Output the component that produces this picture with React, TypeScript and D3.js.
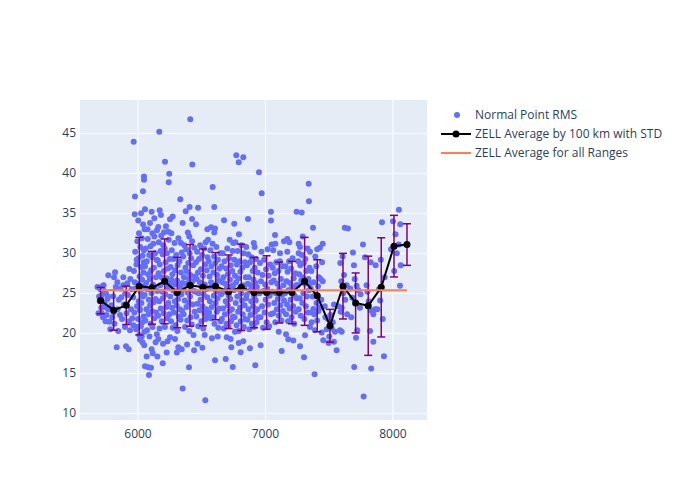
import React from "react";
import * as d3 from "d3";

// Scatter: [range km, RMS]
const rmsPoints: [number, number][] = [
  // ~5700
  [5682,25.8],[5690,22.5],[5700,24.0],[5705,25.5],[5712,23.2],[5715,25.8],[5715,22.5],[5718,24.8],[5725,22.0],[5730,26.0],[5738,23.8],[5745,21.5],[5728,25.4],[5741,23.3],[5695,24.6],[5748,25.0],
  // ~5800
  [5754,22.3],[5767,27.25],[5775,21.45],[5760,24.3],[5765,24.6],[5783,20.5],[5790,23.5],[5806,24.65],[5812,27.0],[5820,27.65],[5833,18.25],[5798,22.0],[5815,21.2],[5826,25.8],[5840,23.0],[5845,20.3],[5838,26.4],[5765,23.0],[5850,24.2],[5808,22.6],
  // ~5900
  [5859,22.3],[5885,27.0],[5885,26.0],[5898,20.8],[5906,18.4],[5916,26.25],[5927,18.0],[5932,28.05],[5937,20.4],[5870,24.5],[5890,23.6],[5910,22.5],[5920,24.8],[5945,23.0],[5950,25.5],[5875,21.8],[5900,25.0],[5930,21.5],[5940,26.8],[5862,25.6],[5955,21.9],
  [5963,21.0],[5966,43.95],[5974,34.9],[5976,37.1],
  // ~6000
  [6039,37.75],[6047,39.6],[6047,39.2],[6052,33.0],[6055,35.5],[6016,19.2],[6049,18.5],[6055,15.9],[5990,20.8],
  [5962,24.5],[5968,27.8],[5972,22.6],[5978,30.2],[5982,25.6],[5985,20.5],[5988,28.6],[5992,23.4],[5995,31.5],[5998,26.2],[6000,21.8],[6003,29.4],[6006,24.0],[6008,32.5],[6010,19.8],[6012,27.1],[6015,22.9],[6018,30.8],[6020,25.2],[6022,20.9],[6025,28.3],[6027,23.8],[6030,31.9],[6032,26.7],[6034,21.4],[6036,29.7],[6038,24.6],[6040,33.6],[6042,27.6],[6044,22.1],[6046,30.4],[6048,25.9],[6050,20.2],[6002,34.1],[6024,35.0],[6035,18.9],[6045,28.9],[5975,26.4],[5990,29.2],[6013,23.1],[6029,19.6],
  // ~6100
  [6094,33.8],[6107,35.2],[6113,32.5],[6128,34.4],[6128,32.1],[6107,18.0],[6115,17.5],[6068,17.1],[6081,15.75],[6086,14.8],[6102,15.7],[6149,32.9],
  [6052,24.8],[6055,28.4],[6058,21.6],[6061,30.6],[6064,26.3],[6066,23.0],[6069,29.0],[6071,20.4],[6074,25.5],[6077,31.8],[6079,27.4],[6082,22.4],[6085,24.2],[6088,29.8],[6090,19.6],[6092,26.8],[6095,23.5],[6098,30.9],[6100,21.2],[6103,27.9],[6106,25.0],[6109,22.8],[6111,29.5],[6114,20.8],[6117,26.1],[6120,31.2],[6122,23.9],[6125,28.2],[6128,21.9],[6131,25.7],[6134,30.0],[6137,24.3],[6140,27.0],[6143,22.6],[6146,29.2],[6148,19.9],[6075,33.0],[6138,18.9],
  // ~6200
  [6167,45.2],[6212,41.45],[6245,39.95],[6241,38.9],[6170,35.4],[6159,33.3],[6204,32.65],[6238,32.7],[6251,34.25],[6159,19.3],[6152,17.1],[6194,16.25],[6225,17.6],[6251,19.5],
  [6152,25.3],[6155,29.1],[6158,22.2],[6161,27.5],[6163,31.4],[6166,24.0],[6169,20.6],[6171,28.6],[6174,26.0],[6177,30.3],[6179,23.1],[6182,32.2],[6185,27.0],[6187,21.5],[6190,25.2],[6193,29.9],[6195,24.4],[6198,31.0],[6201,22.5],[6203,27.8],[6206,26.4],[6209,30.6],[6211,20.8],[6214,24.9],[6217,28.9],[6219,33.4],[6222,23.3],[6225,26.9],[6227,30.0],[6230,21.9],[6233,25.7],[6235,28.1],[6238,23.8],[6241,31.7],[6244,26.2],[6247,22.4],[6249,29.3],[6180,34.8],[6196,18.7],[6232,19.0],
  // ~6300
  [6272,34.6],[6332,36.75],[6350,33.8],[6337,31.3],[6290,19.3],[6316,18.25],[6343,18.0],[6350,13.1],
  [6253,24.6],[6256,28.3],[6259,21.5],[6262,26.7],[6265,30.4],[6267,23.2],[6270,27.4],[6273,20.7],[6276,25.4],[6278,29.3],[6281,22.6],[6284,26.1],[6287,31.3],[6289,24.0],[6292,27.9],[6295,21.0],[6298,25.0],[6300,29.8],[6303,23.5],[6306,26.6],[6309,20.3],[6311,28.5],[6314,24.3],[6317,31.9],[6320,22.1],[6323,26.0],[6325,29.0],[6328,23.0],[6331,25.8],[6334,21.7],[6337,27.6],[6340,24.9],[6343,30.1],[6346,22.8],[6348,26.3],[6262,32.5],[6305,17.6],
  // ~6400
  [6410,46.75],[6426,41.1],[6405,35.8],[6374,35.25],[6424,34.3],[6402,32.1],[6400,15.75],[6455,33.65],[6471,35.7],
  [6352,25.5],[6355,29.6],[6358,22.4],[6361,27.0],[6364,31.0],[6366,24.1],[6369,20.8],[6372,28.2],[6375,26.2],[6378,30.5],[6380,23.3],[6383,27.7],[6386,21.6],[6389,25.1],[6391,32.6],[6394,28.8],[6397,23.9],[6400,26.8],[6402,20.3],[6405,30.0],[6408,24.6],[6410,27.3],[6413,22.0],[6416,29.4],[6419,25.9],[6421,21.1],[6424,31.5],[6427,26.5],[6430,23.6],[6433,28.5],[6435,19.8],[6438,25.3],[6441,30.7],[6444,22.7],[6447,27.1],[6385,18.6],[6440,17.9],
  // ~6500
  [6544,33.0],[6531,31.4],[6549,31.7],[6523,19.8],[6528,11.65],
  [6452,25.2],[6455,28.9],[6458,22.1],[6461,26.8],[6464,30.2],[6467,23.7],[6470,27.6],[6473,20.9],[6476,25.0],[6479,29.3],[6482,22.9],[6485,26.4],[6488,31.0],[6491,24.2],[6494,28.0],[6497,21.5],[6500,25.8],[6503,29.8],[6506,23.4],[6509,27.2],[6512,20.6],[6515,24.9],[6518,30.6],[6521,22.5],[6524,26.1],[6527,28.6],[6530,21.8],[6533,25.5],[6536,23.0],[6539,27.9],[6542,24.5],[6545,29.5],[6548,22.2],[6466,18.7],[6505,18.2],
  // ~6600
  [6586,38.3],[6598,35.8],[6573,33.25],[6604,33.1],[6598,32.6],[6604,16.65],
  [6552,25.6],[6555,29.0],[6558,22.6],[6561,27.1],[6564,24.0],[6567,30.4],[6570,21.9],[6573,26.4],[6576,28.4],[6579,23.3],[6582,25.9],[6585,31.2],[6588,22.0],[6591,27.6],[6594,24.7],[6597,29.6],[6600,21.2],[6603,26.0],[6606,28.8],[6609,23.8],[6612,25.3],[6615,30.8],[6618,22.7],[6621,27.3],[6624,24.4],[6627,29.2],[6630,20.7],[6633,26.6],[6636,23.1],[6639,28.1],[6642,25.1],[6645,30.0],[6648,21.5],[6580,19.4],[6625,19.6],
  // ~6700
  [6675,34.15],[6719,31.7],[6747,31.3],[6688,16.8],[6743,15.8],[6732,18.25],[6696,19.5],[6727,19.3],[6755,33.7],
  [6652,24.9],[6655,28.4],[6658,21.8],[6661,26.4],[6664,30.0],[6667,23.1],[6670,27.0],[6673,20.6],[6676,25.2],[6679,29.0],[6682,22.4],[6685,26.2],[6688,24.0],[6691,28.1],[6694,21.2],[6697,25.6],[6700,30.6],[6703,23.5],[6706,27.4],[6709,20.9],[6712,24.7],[6715,29.4],[6718,22.8],[6721,26.7],[6724,24.3],[6727,28.5],[6730,21.5],[6733,25.9],[6736,23.0],[6739,27.8],[6742,30.3],[6745,22.1],[6748,26.0],
  // ~6800
  [6771,42.25],[6826,42.0],[6790,41.4],[6792,32.4],[6849,30.8],[6805,17.65],[6826,19.0],[6761,20.2],
  [6752,25.4],[6755,29.2],[6758,22.0],[6761,27.2],[6764,31.4],[6767,23.8],[6770,26.4],[6773,21.0],[6776,28.6],[6779,24.6],[6782,30.3],[6785,22.7],[6788,26.9],[6791,20.3],[6794,25.5],[6797,29.0],[6800,23.2],[6803,27.7],[6806,21.5],[6809,25.0],[6812,31.0],[6815,24.1],[6818,28.2],[6821,22.4],[6824,26.0],[6827,30.0],[6830,20.8],[6833,25.8],[6836,23.5],[6839,28.9],[6842,21.8],[6845,27.0],[6848,24.4],[6790,18.8],
  // ~6900
  [6949,40.15],[6863,34.3],[6908,31.3],[6915,30.8],[6878,18.15],[6920,16.0],
  [6852,24.8],[6855,28.5],[6858,21.7],[6861,26.2],[6864,29.9],[6867,23.0],[6870,27.0],[6873,20.5],[6876,25.3],[6879,28.9],[6882,22.3],[6885,26.0],[6888,24.0],[6891,29.5],[6894,21.2],[6897,25.6],[6900,27.8],[6903,23.4],[6906,26.7],[6909,20.8],[6912,24.6],[6915,28.2],[6918,22.7],[6921,26.3],[6924,24.1],[6927,29.3],[6930,21.4],[6933,25.8],[6936,23.0],[6939,27.6],[6942,22.0],[6945,25.1],
  // ~7000
  [6970,37.5],[7043,35.2],[7043,34.1],[6962,18.5],
  [6953,25.0],[6957,28.8],[6961,22.0],[6965,26.5],[6969,30.2],[6973,23.4],[6977,27.3],[6981,20.7],[6985,25.3],[6989,29.2],[6993,22.6],[6997,26.1],[7001,24.2],[7005,28.0],[7009,21.4],[7013,25.6],[7017,30.5],[7021,23.6],[7025,27.2],[7029,20.9],[7033,24.7],[7037,28.6],[7041,22.4],[7045,26.4],[7048,31.1],
  // ~7100
  [7075,32.3],[7077,31.2],[7061,30.4],[7114,30.0],[7145,31.5],[7127,17.8],[7104,20.2],
  [7053,25.2],[7057,28.2],[7061,22.5],[7065,26.6],[7069,23.8],[7073,27.5],[7077,21.4],[7081,25.0],[7085,28.9],[7089,23.0],[7093,26.2],[7097,24.3],[7101,27.8],[7105,22.2],[7109,25.6],[7113,29.0],[7117,23.5],[7121,26.8],[7125,21.6],[7129,24.8],[7133,28.4],[7137,22.8],[7141,26.0],[7145,24.1],
  // ~7200
  [7171,31.8],[7187,31.4],[7171,30.2],[7244,35.2],[7179,19.25],[7218,19.1],[7161,19.9],
  [7153,25.0],[7157,28.4],[7161,22.4],[7165,26.5],[7169,23.6],[7173,27.7],[7177,21.5],[7181,25.4],[7185,29.0],[7189,23.1],[7193,26.3],[7197,24.2],[7201,28.1],[7205,22.0],[7209,25.8],[7213,29.4],[7217,23.4],[7221,26.9],[7225,21.2],[7229,24.7],[7233,27.5],[7237,22.7],[7241,26.0],[7246,24.4],
  // ~7300
  [7284,35.1],[7339,38.7],[7341,36.5],[7292,32.1],[7260,31.2],[7271,30.8],[7260,30.0],[7302,17.0],[7271,18.4],[7310,19.75],[7349,30.2],[7349,26.25],[7349,20.8],
  [7253,26.0],[7257,29.0],[7261,23.0],[7265,27.4],[7269,24.4],[7273,28.5],[7277,22.2],[7281,26.6],[7285,29.8],[7289,23.8],[7293,27.0],[7297,25.0],[7301,28.8],[7305,21.8],[7309,26.2],[7313,29.3],[7317,23.4],[7321,27.8],[7325,24.6],[7329,30.6],[7333,22.6],[7337,26.8],[7341,25.4],[7345,28.2],
  // ~7400
  [7373,33.2],[7406,30.5],[7427,30.7],[7449,31.2],[7391,29.6],[7385,14.9],[7388,20.4],[7441,20.1],[7453,19.15],[7449,26.5],[7370,24.6],[7401,23.8],[7375,23.05],[7383,22.4],
  [7355,25.6],[7360,27.8],[7365,22.6],[7378,26.4],[7392,24.8],[7398,28.4],[7405,21.6],[7412,25.9],[7418,27.0],[7425,23.2],[7432,26.8],[7438,24.2],[7444,28.9],[7362,21.4],[7415,22.8],
  // ~7500
  [7537,23.6],[7571,23.4],[7537,18.95],[7558,17.9],[7470,22.0],[7480,20.5],[7490,21.8],[7500,19.6],[7510,22.3],[7520,20.6],[7528,21.4],[7545,20.2],[7465,23.4],[7495,18.8],
  // ~7600
  [7587,28.8],[7616,27.3],[7622,33.2],[7647,33.1],[7637,26.0],[7590,22.7],[7598,23.2],[7584,20.4],[7598,20.2],[7610,25.0],[7625,24.2],[7605,29.6],[7640,22.4],[7595,26.5],
  // ~7700
  [7694,28.5],[7686,30.1],[7715,25.95],[7728,25.4],[7681,24.45],[7673,22.0],[7720,20.4],[7710,19.45],[7696,15.8],[7741,23.2],[7746,24.9],[7700,26.8],[7665,25.6],
  // ~7800
  [7765,31.1],[7770,12.1],[7793,26.0],[7825,28.9],[7825,22.9],[7846,22.4],[7820,20.3],[7846,18.95],[7829,15.6],[7859,23.0],[7864,28.5],[7800,25.2],[7780,29.5],[7810,24.0],
  // ~7900
  [7877,23.0],[7914,33.9],[7929,17.15],[7890,25.5],[7905,29.2],[7920,21.8],[7935,27.0],[7900,24.1],
  // ~8000 / 8100
  [8047,35.45],[8057,33.65],[8045,31.1],[8061,28.5],[8055,25.95],[7985,30.5],[8010,27.8],[8020,32.4],[8000,34.0],[8030,30.0],
];

// Binned averages (100 km) with standard deviation
const binRange = [5707,5809,5908,6010,6110,6209,6308,6408,6510,6609,6711,6810,6910,7009,7108,7208,7307,7406,7506,7608,7707,7806,7908,8008,8110];
const binMean = [24.1,22.9,23.5,25.9,25.7,26.5,25.1,26.0,25.75,25.9,25.2,25.75,25.1,25.1,25.1,25.1,26.5,24.7,20.95,25.9,23.8,23.45,25.75,30.9,31.1];
const binStd = [1.65,2.5,2.4,6.1,4.55,5.3,4.4,5.1,4.8,4.2,4.6,5.4,4.4,4.6,3.8,3.9,5.5,4.5,2.05,4.1,3.75,6.2,6.2,3.85,2.6];

const overallMean = 25.4;

const xTicks = [6000, 7000, 8000];
const yTicks = [10, 15, 20, 25, 30, 35, 40, 45];

const legendLabels = ["Normal Point RMS", "ZELL Average by 100 km with STD", "ZELL Average for all Ranges"];

const W = 700, H = 500;
const L = 80, R = 427, T = 100, B = 420;
const FONT = '"Open Sans", verdana, arial, sans-serif';

export default function App() {
  const x = d3.scaleLinear().domain([5545, 8267]).range([L, R]);
  const y = d3.scaleLinear().domain([9.17, 49.17]).range([B, T]);
  const line = d3.line<number>().x((_, i) => x(binRange[i])).y((d) => y(d));
  const xMin = d3.min(binRange) as number;
  const xMax = d3.max(binRange) as number;

  return (
    <svg width={W} height={H} style={{ position: "absolute", left: 0, top: 0, background: "#fff" }} fontFamily={FONT}>
      <defs>
        <clipPath id="plotclip"><rect x={L} y={T} width={R - L} height={B - T} /></clipPath>
      </defs>
      <rect x={L} y={T} width={R - L} height={B - T} fill="#E5ECF6" />
      {xTicks.map((t) => (
        <line key={"gx" + t} x1={x(t)} x2={x(t)} y1={T} y2={B} stroke="#fff" strokeWidth={1} />
      ))}
      {yTicks.map((t) => (
        <line key={"gy" + t} x1={L} x2={R} y1={y(t)} y2={y(t)} stroke="#fff" strokeWidth={1} />
      ))}
      <g clipPath="url(#plotclip)">
        {rmsPoints.map((p, i) => (
          <circle key={"p" + i} cx={x(p[0])} cy={y(p[1])} r={3} fill="#636efa" />
        ))}
        {binRange.map((r, i) => {
          const cx = x(r);
          const y1 = y(binMean[i] + binStd[i]);
          const y2 = y(binMean[i] - binStd[i]);
          return (
            <g key={"e" + i} stroke="#800080" strokeWidth={1.5}>
              <line x1={cx} x2={cx} y1={y1} y2={y2} />
              <line x1={cx - 4} x2={cx + 4} y1={y1} y2={y1} />
              <line x1={cx - 4} x2={cx + 4} y1={y2} y2={y2} />
            </g>
          );
        })}
        <path d={line(binMean) || ""} fill="none" stroke="#000" strokeWidth={2} />
        {binRange.map((r, i) => (
          <circle key={"m" + i} cx={x(r)} cy={y(binMean[i])} r={3.5} fill="#000" />
        ))}
        <line x1={x(xMin)} x2={x(xMax)} y1={y(overallMean)} y2={y(overallMean)} stroke="#FF7F50" strokeWidth={2} />
      </g>
      {xTicks.map((t) => (
        <text key={"tx" + t} x={x(t)} y={438} textAnchor="middle" fontSize={12} fill="#2a3f5f">{t}</text>
      ))}
      {yTicks.map((t) => (
        <text key={"ty" + t} x={76} y={y(t) + 4} textAnchor="end" fontSize={12} fill="#2a3f5f">{t}</text>
      ))}
      <g fontSize={12} fill="#2a3f5f">
        <circle cx={457} cy={115} r={3} fill="#636efa" />
        <text x={475} y={119}>{legendLabels[0]}</text>
        <line x1={441} x2={471} y1={134} y2={134} stroke="#000" strokeWidth={2} />
        <circle cx={456} cy={134} r={3.5} fill="#000" />
        <text x={475} y={138}>{legendLabels[1]}</text>
        <line x1={441} x2={471} y1={153} y2={153} stroke="#FF7F50" strokeWidth={2} />
        <text x={475} y={157}>{legendLabels[2]}</text>
      </g>
    </svg>
  );
}
